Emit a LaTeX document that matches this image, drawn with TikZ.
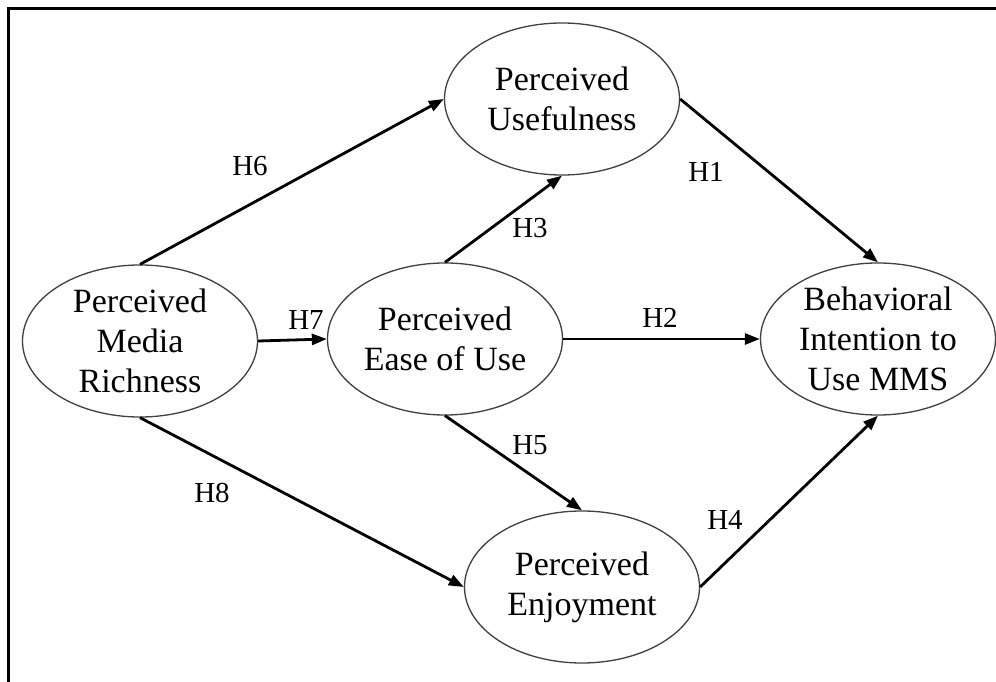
\documentclass[tikz,border=0pt]{standalone}
\usepackage{fontspec}
\setmainfont{Liberation Serif}
\usetikzlibrary{arrows.meta,shapes.geometric}
\begin{document}
\begin{tikzpicture}[x=1pt,y=-1pt,
  construct/.style={draw=black!75,line width=1.3pt,ellipse,minimum width=235pt,minimum height=152pt,inner sep=0pt,align=center,font=\fontsize{34}{40}\selectfont},
  path/.style={line width=2.8pt,-{Triangle[length=15pt,width=11pt]}},
  hlab/.style={font=\fontsize{29}{32}\selectfont,inner sep=0pt}]
\useasboundingbox (0,0) rectangle (996,682);
\draw[line width=3pt] (8.5,682) -- (8.5,8.5) -- (996,8.5);
\node[construct] (pu) at (562,99) {Perceived\\Usefulness};
\node[construct] (pmr) at (140,341) {Perceived\\Media\\Richness};
\node[construct] (peou) at (445,339) {Perceived\\Ease of Use};
\node[construct] (bi) at (878,339) {Behavioral\\Intention to\\Use MMS};
\node[construct] (pe) at (582,587) {Perceived\\Enjoyment};
\draw[path] (pmr.north) -- (pu.west);
\draw[path] (pmr.east) -- (peou.west);
\draw[path] (pmr.south) -- (pe.west);
\draw[path] (peou.north) -- (pu.south);
\draw[path] (peou.east) -- (bi.west);
\draw[path] (peou.south) -- (pe.north);
\draw[path] (pu.east) -- (bi.north);
\draw[path] (pe.east) -- (bi.south);
\node[hlab] (h6) at (250,166) {H6};
\node[hlab] (h3) at (530,228) {H3};
\node[hlab] (h1) at (706,172) {H1};
\node[hlab] (h7) at (306,320) {H7};
\node[hlab] (h2) at (660,318) {H2};
\node[hlab] (h5) at (530,445) {H5};
\node[hlab] (h8) at (212,493) {H8};
\node[hlab] (h4) at (725,520) {H4};
\end{tikzpicture}
\end{document}
